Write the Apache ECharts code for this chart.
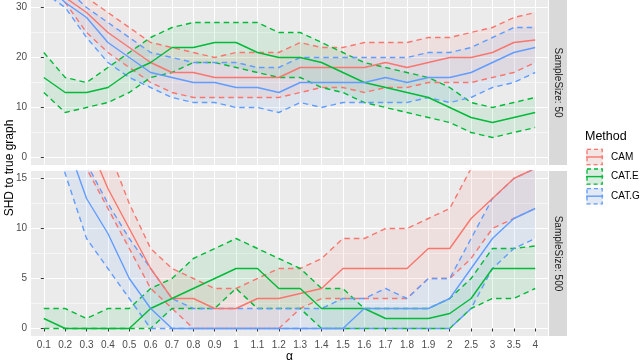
<!DOCTYPE html>
<html>
<head>
<meta charset="utf-8">
<script src="https://cdn.jsdelivr.net/npm/echarts@6/dist/echarts.min.js"></script>
<style>
html,body{margin:0;padding:0;background:#fff;}
#chart{width:640px;height:361px;}
</style>
</head>
<body>
<div id="chart"></div>
<script>
var alphaLabels = ['0.1','0.2','0.3','0.4','0.5','0.6','0.7','0.8','0.9','1','1.1','1.2','1.3','1.4','1.5','1.6','1.7','1.8','1.9','2','2.5','3','3.5','4'];
var methods = ['CAM','CAT.E','CAT.G'];
var colors = ['#F8766D','#00BA38','#619CFF'];

// SampleSize: 50
var cam50Med = [36,32,29,25,22,19,17,17,16,16,16,16,18,18,18,18,19,18,19,20,20,21,23,23.5];
var cam50Lo  = [35,31,25,21,18,15,13,12,12,12,12,12,13,14,14,13,14,14,15,15,15,16,17,19];
var cam50Hi  = [40,36,32,29,26,23,22,21,20,21,21,21,23,22,22,23,23,23,24,24,25,26,28,29];
var catE50Med = [16,13,13,14,17,19,22,22,23,23,21,20,20,19,17,15,14,13,12,10,8,7,8,9];
var catE50Lo  = [13,9,10,11,13,16,17,19,19,18,17,16,16,14,13,11,10,9,8,7,5,4,5,6];
var catE50Hi  = [21,16,15,18,21,24,26,27,27,27,27,25,25,23,21,19,18,17,16,14,11,10,11,12];
var catG50Med = [35,31,28,23,20,17,16,15,15,14,14,13,15,15,15,15,16,15,16,16,17,19,21,22];
var catG50Lo  = [33,30,24,19,16,14,12,11,11,10,10,9,11,10,11,11,11,11,12,11,12,14,15,17];
var catG50Hi  = [38,34,30,27,24,21,20,19,19,19,18,18,20,20,20,20,20,20,21,21,22,24,26,26];

// SampleSize: 500
var cam500Med = [27,23,19,14,10,6,3,3,2,2,3,3,3.5,4,6,6,6,6,8,8,11,13,15,16];
var cam500Lo  = [24,20,16,12,8,4,2,0,0,0,0,0,2,3,3,3,3,3,5,5,7,10,11,12];
var cam500Hi  = [30,26,22,18,12.5,8,6,5,4,4,5,6,6,7,9,9,10,10,11,12,16,19,20,21];
var catE500Med = [1,0,0,0,0,2,3,4,5,6,6,4,4,2,2,2,1,1,1,1.5,3,6,6,6];
var catE500Lo  = [0,0,0,0,0,0,2,2,2,4,2,2,2,0,0,0,0,0,0,0,2,3,3,4];
var catE500Hi  = [2,2,1,2,2,4,5,7,8,9,8,7,6,4,4,2,2,2,2,3,5,8,8,8.25];
var catG500Med = [24,19,13,9.5,5,2,0,0,0,0,0,0,0,0,0,2,2,2,2,3,6,9,11,12];
var catG500Lo  = [22,15.5,9,6,3,0,0,0,0,0,0,0,0,0,0,0,0,0,0,0,2,6,8,9];
var catG500Hi  = [25,21,16.5,12.5,9,6,3,2,2,2,2,2,2,2,3,3,4,3,5,5,9,13,15,16];

var yTicks50 = [0,10,20,30];
var yMinor50 = [5,15,25];
var yTicks500 = [0,5,10,15];
var yMinor500 = [2.5,7.5,12.5];

var font = 'Liberation Sans, Arial, Helvetica, sans-serif';
var idx = alphaLabels.map(function (d, i) { return i; });

var chart = echarts.init(document.getElementById('chart'));

function bgX(gi, withLabels) {
    return {
        type: 'value', gridIndex: gi, min: -0.6, max: 23.6,
        axisLine: {show: false},
        axisTick: {show: withLabels, customValues: idx, length: 3, lineStyle: {color: '#333333', width: 1}},
        axisLabel: {show: withLabels, customValues: idx, color: '#4D4D4D', fontSize: 10, margin: 4, fontFamily: font,
            formatter: function (v) { return alphaLabels[Math.round(v)]; }},
        splitLine: {show: true, lineStyle: {color: '#FFFFFF', width: 1.1}},
        name: withLabels ? 'α' : '', nameLocation: 'middle', nameGap: 11,
        nameTextStyle: {color: '#000', fontSize: 12, fontFamily: font}
    };
}
function majorY(gi, mn, mx, ticks) {
    return {
        type: 'value', gridIndex: gi, min: mn, max: mx, position: 'left',
        axisLine: {show: false},
        axisTick: {show: true, customValues: ticks, length: 3, lineStyle: {color: '#333333', width: 1}},
        axisLabel: {show: true, customValues: ticks, color: '#4D4D4D', fontSize: 10, margin: 4, fontFamily: font},
        splitLine: {show: true, lineStyle: {color: '#FFFFFF', width: 1.1}}
    };
}
function minorY(gi, mn, mx, ticks) {
    return {
        type: 'value', gridIndex: gi, min: mn, max: mx, position: 'left',
        axisLine: {show: false},
        axisTick: {show: false, customValues: ticks},
        axisLabel: {show: false, customValues: ticks},
        splitLine: {show: true, lineStyle: {color: '#FFFFFF', width: 0.55}}
    };
}
function dataX(gi) {
    return {type: 'category', gridIndex: gi, data: alphaLabels, boundaryGap: true, show: false};
}

var panels = [
    {med: [cam50Med, catE50Med, catG50Med], lo: [cam50Lo, catE50Lo, catG50Lo], hi: [cam50Hi, catE50Hi, catG50Hi]},
    {med: [cam500Med, catE500Med, catG500Med], lo: [cam500Lo, catE500Lo, catG500Lo], hi: [cam500Hi, catE500Hi, catG500Hi]}
];

var series = [];
panels.forEach(function (p, pi) {
    var xi = 2 + pi, yi = 4 + pi;
    // ribbons
    methods.forEach(function (m, k) {
        var lo = p.lo[k], hi = p.hi[k];
        series.push({
            type: 'line', xAxisIndex: xi, yAxisIndex: yi, data: lo, stack: 'band' + pi + k,
            symbol: 'none', silent: true, lineStyle: {opacity: 0}, z: 1, animation: false
        });
        series.push({
            type: 'line', xAxisIndex: xi, yAxisIndex: yi,
            data: hi.map(function (v, i) { return v - lo[i]; }), stack: 'band' + pi + k,
            symbol: 'none', silent: true, lineStyle: {opacity: 0},
            areaStyle: {color: colors[k], opacity: 0.1}, z: 1, animation: false
        });
    });
    // dashed bounds
    methods.forEach(function (m, k) {
        [p.lo[k], p.hi[k]].forEach(function (arr) {
            series.push({
                type: 'line', xAxisIndex: xi, yAxisIndex: yi, data: arr, symbol: 'none', silent: true,
                lineStyle: {color: colors[k], width: 1.4, type: [5.5, 4]}, z: 2, animation: false
            });
        });
    });
    // medians
    methods.forEach(function (m, k) {
        series.push({
            type: 'line', xAxisIndex: xi, yAxisIndex: yi, data: p.med[k], symbol: 'none', silent: true,
            lineStyle: {color: colors[k], width: 1.4}, z: 3, animation: false
        });
    });
});

var graphics = [
    {type: 'rect', shape: {x: 549, y: 0, width: 18, height: 165}, style: {fill: '#D9D9D9'}},
    {type: 'text', x: 558, y: 82.5, rotation: -Math.PI / 2,
        style: {text: 'SampleSize: 50', align: 'center', verticalAlign: 'middle', fill: '#1A1A1A', fontSize: 10, fontFamily: font}},
    {type: 'rect', shape: {x: 549, y: 171, width: 18, height: 165}, style: {fill: '#D9D9D9'}},
    {type: 'text', x: 558, y: 253.5, rotation: -Math.PI / 2,
        style: {text: 'SampleSize: 500', align: 'center', verticalAlign: 'middle', fill: '#1A1A1A', fontSize: 10, fontFamily: font}},
    {type: 'text', x: 10, y: 168, rotation: Math.PI / 2,
        style: {text: 'SHD to true graph', align: 'center', verticalAlign: 'middle', fill: '#000', fontSize: 12, fontFamily: font}},
    {type: 'text', x: 585, y: 137,
        style: {text: 'Method', align: 'left', verticalAlign: 'middle', fill: '#000', fontSize: 12.5, fontFamily: font}}
];
methods.forEach(function (m, k) {
    var cy = 157 + k * 19.6;
    graphics.push({type: 'rect', shape: {x: 586, y: cy - 8.6, width: 17.2, height: 17.2}, style: {fill: '#F2F2F2'}});
    graphics.push({type: 'rect', shape: {x: 587, y: cy - 7.6, width: 15.2, height: 15.2},
        style: {fill: echarts.color.modifyAlpha(colors[k], 0.1), stroke: colors[k], lineWidth: 1.3, lineDash: [4, 3]}});
    graphics.push({type: 'line', shape: {x1: 586, y1: cy, x2: 603.2, y2: cy}, style: {stroke: colors[k], lineWidth: 1.4}});
    graphics.push({type: 'text', x: 611, y: cy,
        style: {text: m, align: 'left', verticalAlign: 'middle', fill: '#000', fontSize: 10, fontFamily: font}});
});

function gridAt(left, top, width, extra) {
    var g = {left: left, top: top, width: width, height: 165, outerBoundsMode: 'none', containLabel: false};
    if (extra) { g.show = true; g.backgroundColor = '#EBEBEB'; g.borderWidth = 0; }
    return g;
}

chart.setOption({
    animation: false,
    backgroundColor: '#FFFFFF',
    grid: [
        gridAt(31, 0, 517, true),
        gridAt(31, 171, 517, true),
        gridAt(33.14, 0, 512.73, false),
        gridAt(33.14, 171, 512.73, false)
    ],
    xAxis: [bgX(0, false), bgX(1, true), dataX(2), dataX(3)],
    yAxis: [
        majorY(0, -1.5, 31.5, yTicks50),
        minorY(0, -1.5, 31.5, yMinor50),
        majorY(1, -0.75, 15.75, yTicks500),
        minorY(1, -0.75, 15.75, yMinor500),
        {type: 'value', gridIndex: 2, min: -1.5, max: 31.5, show: false},
        {type: 'value', gridIndex: 3, min: -0.75, max: 15.75, show: false}
    ],
    series: series,
    graphic: graphics
});
</script>
</body>
</html>
